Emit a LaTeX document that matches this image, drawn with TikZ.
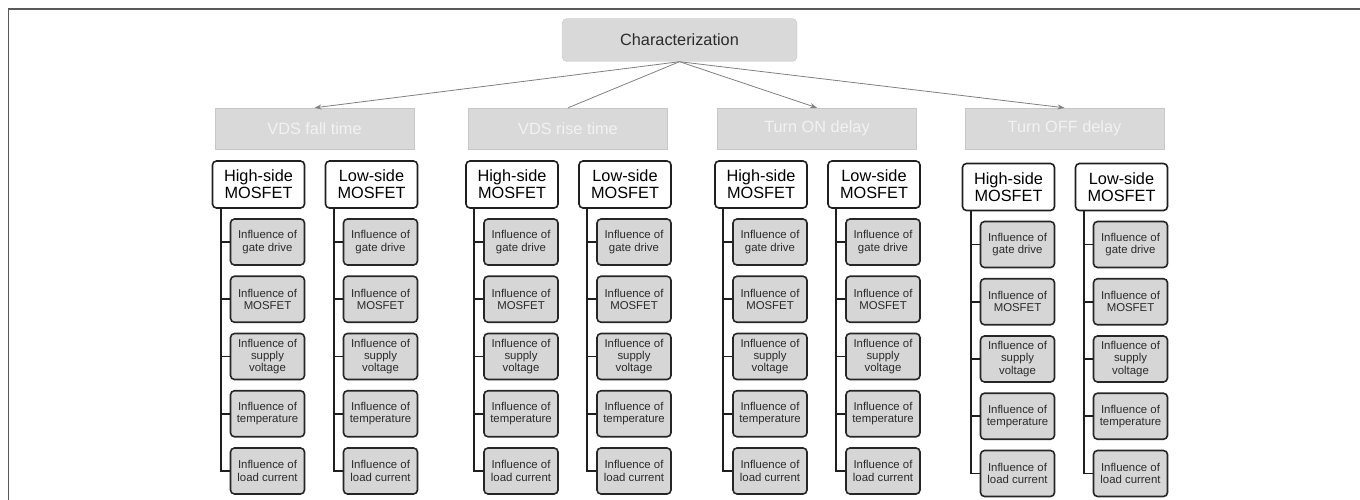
\documentclass[tikz,border=0pt]{standalone}
\usepackage{fontspec}
\setmainfont{Liberation Sans}
\usetikzlibrary{arrows.meta}
\definecolor{boxgray}{HTML}{D9D9D9}
\definecolor{leafgray}{HTML}{D6D6D6}
\definecolor{txtgray}{HTML}{2B2B2B}
\begin{document}
\begin{tikzpicture}[x=1pt,y=-1pt,
 rootbox/.style={draw=black!22, fill=boxgray, rounded corners=5pt, minimum width=235pt, minimum height=43pt, inner sep=0pt, font=\fontsize{16.3}{19}\selectfont, text=txtgray},
 catbox/.style={draw=black!22, fill=boxgray, minimum width=199pt, minimum height=41pt, inner sep=0pt, font=\fontsize{16.3}{19}\selectfont, text=white!95!black},
 sidebox/.style={draw=black!88, line width=1.6pt, fill=white, rounded corners=4pt, minimum width=92pt, minimum height=47pt, inner sep=0pt, align=center, font=\fontsize{16.3}{17}\selectfont},
 leafbox/.style={draw=black!85, line width=1.6pt, fill=leafgray, rounded corners=4pt, minimum width=74pt, minimum height=46pt, inner sep=0pt, align=center, font=\fontsize{11.4}{12.3}\selectfont, text=txtgray},
 fan/.style={draw=black!50, line width=0.8pt},
 fantip/.style={fan, -{Stealth[length=7pt,width=5pt]}},
 tree/.style={draw=black!88, line width=1.6pt},
 frame/.style={draw=black!65, line width=1.5pt}]
\useasboundingbox (0,0) rectangle (1360,500);
\draw[frame] (8.5,500) -- (8.5,9) -- (1360,9);
\node[rootbox] (root) at (679.5,40) {Characterization};
\foreach \i/\cx/\dy/\nm in {1/314.5/0/VDS fall time, 2/568/0/VDS rise time, 3/817/0/Turn ON delay, 4/1064.5/2.5/Turn OFF delay}{
  \node[catbox] (c\i) at (\cx,128.5) {\nm};
  \node[sidebox] (h\i) at ({\cx-56},{184.5+\dy}) {High-side\\MOSFET};
  \node[sidebox] (w\i) at ({\cx+57},{184.5+\dy}) {Low-side\\MOSFET};
  \foreach \j/\t in {1/{gate drive}, 2/{MOSFET}, 3/{supply\\voltage}, 4/{temperature}, 5/{load current}}{
    \node[leafbox] (h\i l\j) at ({\cx-47},{242+57.25*(\j-1)+\dy}) {Influence of\\\t};
    \node[leafbox] (w\i l\j) at ({\cx+66},{242+57.25*(\j-1)+\dy}) {Influence of\\\t};
    \draw[tree] ([xshift=9pt]h\i.south west) |- (h\i l\j.west);
    \draw[tree] ([xshift=9pt]w\i.south west) |- (w\i l\j.west);
  }
}
\draw[fantip] (root.south) -- (c1.north);
\draw[fan] (root.south) -- (c2.north);
\draw[fantip] (root.south) -- (c3.north);
\draw[fantip] (root.south) -- (c4.north);
\end{tikzpicture}
\end{document}
